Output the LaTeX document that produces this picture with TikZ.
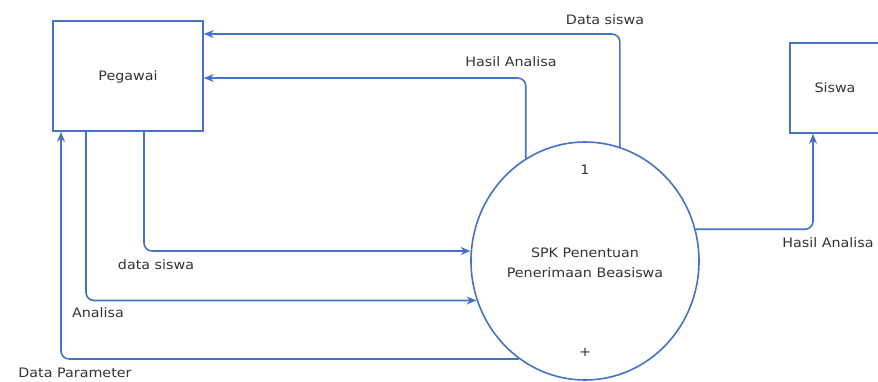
\documentclass[tikz,border=0pt]{standalone}
\usepackage{fontspec}
\setmainfont{DejaVu Sans}[FakeStretch=1.1]
\usetikzlibrary{arrows.meta,shapes.geometric}
\definecolor{dfdBlue}{HTML}{4472C4}
\definecolor{dfdText}{HTML}{333333}
\tikzset{
  dfd entity/.style={draw=dfdBlue, line width=1.6pt, fill=white, inner sep=0pt},
  dfd process/.style={ellipse, draw=dfdBlue, line width=1.6pt, minimum width=228pt, minimum height=238pt, inner sep=0pt, align=center},
  dfd flow/.style={draw=dfdBlue, line width=1.6pt, rounded corners=8pt, -{Stealth[length=10pt,width=8pt]}},
  dfd label/.style={font=\fontsize{13}{20}\selectfont, text=dfdText, inner sep=0pt},
}
\begin{document}
\begin{tikzpicture}[x=1pt,y=-1pt]
  \useasboundingbox (0,0) rectangle (878,381);
  % entities and process
  \node[dfd entity, minimum width=150pt, minimum height=110pt] (pegawai) at (128,76) {};
  \node[dfd label] (pegawaitxt) at (128,77) {Pegawai};
  \node[dfd entity, minimum width=100pt, minimum height=90pt] (siswa) at (840,88) {};
  \node[dfd label] (siswatxt) at (835,88) {Siswa};
  \node[dfd process] (spk) at (585,261) {};
  \node[dfd label, align=center] (spktxt) at (585,263) {SPK Penentuan\\Penerimaan Beasiswa};
  \node[dfd label] (spknum) at (585,170) {1};
  \node[dfd label] (spkplus) at (585,352) {+};
  % flows
  \draw[dfd flow] (spk.73) |- ([yshift=42pt]pegawai.east);
  \draw[dfd flow] (spk.120) |- ([yshift=-2pt]pegawai.east);
  \draw[dfd flow] ([xshift=16pt]pegawai.south) |- (spk.175);
  \draw[dfd flow] ([xshift=-42pt]pegawai.south) |- (spk.200);
  \draw[dfd flow] (spk.236) -| ([xshift=-67pt]pegawai.south);
  \draw[dfd flow] (spk.16) -| ([xshift=-27pt]siswa.south);
  % flow labels
  \node[dfd label] (lbldatasiswa) at (605,20) {Data siswa};
  \node[dfd label] (lblhasil) at (511,62) {Hasil Analisa};
  \node[dfd label] (lbldatasiswa2) at (156,265) {data siswa};
  \node[dfd label] (lblanalisa) at (98,313) {Analisa};
  \node[dfd label] (lblparam) at (75,373) {Data Parameter};
  \node[dfd label] (lblhasil2) at (828,243) {Hasil Analisa};
\end{tikzpicture}
\end{document}
